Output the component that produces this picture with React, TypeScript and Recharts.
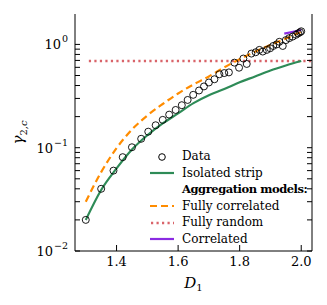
import React from "react";
import { ComposedChart, Line, Scatter, XAxis, YAxis, Legend } from "recharts";

const FONT = "DejaVu Serif";
const GREEN = "#2e8b57";
const ORANGE = "#ff8c00";
const RED = "#d9646a";
const PURPLE = "#8a2be2";

// measured points
const dataD1 = [1.3, 1.35, 1.39, 1.42, 1.45, 1.48, 1.503, 1.527, 1.55, 1.571, 1.592, 1.612, 1.631, 1.649, 1.668, 1.684, 1.7, 1.718, 1.734, 1.75, 1.765, 1.783, 1.798, 1.812, 1.823, 1.838, 1.852, 1.864, 1.875, 1.888, 1.899, 1.909, 1.92, 1.929, 1.94, 1.95, 1.961, 1.972, 1.983, 1.99, 1.996, 2.0];
const dataGamma = [0.02, 0.04, 0.06, 0.081, 0.101, 0.122, 0.143, 0.165, 0.186, 0.209, 0.232, 0.258, 0.29, 0.325, 0.358, 0.392, 0.428, 0.46, 0.514, 0.528, 0.536, 0.666, 0.595, 0.73, 0.647, 0.815, 0.84, 0.885, 0.853, 0.885, 0.918, 0.966, 1.0, 1.06, 0.966, 1.1, 1.15, 1.19, 1.24, 1.28, 1.31, 1.34];

// model curves
const modelD1 = [1.3, 1.35, 1.4, 1.45, 1.5, 1.55, 1.6, 1.65, 1.7, 1.75, 1.8, 1.85, 1.9, 1.95, 2.0];
const isolated = [0.02, 0.039, 0.063, 0.096, 0.132, 0.172, 0.215, 0.27, 0.322, 0.37, 0.43, 0.49, 0.56, 0.625, 0.69];
const fullyCorrelated = [0.03, 0.058, 0.099, 0.15, 0.205, 0.265, 0.335, 0.41, 0.49, 0.6, 0.72, 0.85, 0.99, 1.14, 1.33];
const randomD1 = [1.31, 2.035];
const fullyRandom = [0.69, 0.69];
const correlatedD1 = [1.945, 1.97, 2.0];
const correlated = [1.27, 1.32, 1.38];

const xTicks = [1.4, 1.6, 1.8, 2.0];
const yTicks = [0.01, 0.02, 0.03, 0.04, 0.05, 0.06, 0.07, 0.08, 0.09, 0.1, 0.2, 0.3, 0.4, 0.5, 0.6, 0.7, 0.8, 0.9, 1];

const zip = (xs: number[], ys: number[]) => xs.map((x, i) => ({ x, y: ys[i] }));
const points = zip(dataD1, dataGamma);
const isoData = zip(modelD1, isolated);
const fcData = zip(modelD1, fullyCorrelated);
const frData = zip(randomD1, fullyRandom);
const corData = zip(correlatedD1, correlated);

const legendItems = [
  { label: "Data", kind: "circle", color: "#000" },
  { label: "Isolated strip", kind: "solid", color: GREEN },
  { label: "Aggregation models:", kind: "header", color: "" },
  { label: "Fully correlated", kind: "dash", color: ORANGE },
  { label: "Fully random", kind: "dot", color: RED },
  { label: "Correlated", kind: "solid", color: PURPLE },
];

const isMajor = (v: number) => Math.abs(Math.log10(v) - Math.round(Math.log10(v))) < 1e-6;

// tick label only; tick lines come from the axis (negative tickSize = inward)
function LeftTick(props: any) {
  const { x, y, payload } = props;
  const v = payload.value;
  if (!isMajor(v)) return <g />;
  const exp = Math.round(Math.log10(v));
  return (
    <text x={x - 3} y={y + 5} textAnchor="end" fontFamily={FONT} fontSize={13} fill="#000">
      <tspan>10</tspan>
      <tspan dx={1} dy={-7} fontSize={9.5}>
        {exp < 0 ? "\u2212" + Math.abs(exp) : String(exp)}
      </tspan>
    </text>
  );
}

function BottomTick(props: any) {
  const { x, y, payload } = props;
  return (
    <text x={x} y={y + 13} textAnchor="middle" fontFamily={FONT} fontSize={13} fill="#000">
      {payload.value.toFixed(1)}
    </text>
  );
}

function YLabel(props: any) {
  const { viewBox } = props;
  const cx = viewBox.x + 23;
  const cy = viewBox.y + viewBox.height / 2;
  return (
    <text transform={`translate(${cx},${cy}) rotate(-90)`} textAnchor="middle" fontFamily={FONT} fill="#000">
      <tspan fontSize={15} fontStyle="italic">γ</tspan>
      <tspan fontSize={10} dy={4}>2,</tspan>
      <tspan fontSize={10} fontStyle="italic">c</tspan>
    </text>
  );
}

function XLabel(props: any) {
  const { viewBox } = props;
  return (
    <text x={viewBox.x + viewBox.width / 2} y={viewBox.y + 37} textAnchor="middle" fontFamily={FONT} fill="#000">
      <tspan fontSize={15} fontStyle="italic">D</tspan>
      <tspan fontSize={10} dy={3}>1</tspan>
    </text>
  );
}

function PanelLabel(props: any) {
  const { viewBox } = props;
  return (
    <text x={viewBox.x + 7} y={viewBox.y + 18} fontFamily={FONT} fontSize={15} fill="#000">
      b)
    </text>
  );
}

function Marker({ kind, color }: { kind: string; color: string }) {
  if (kind === "header") return <span style={{ display: "inline-block", width: 34 }} />;
  return (
    <svg width={34} height={10} style={{ verticalAlign: "middle" }}>
      {kind === "circle" && <circle cx={14} cy={5} r={3.3} fill="none" stroke={color} strokeWidth={1} />}
      {kind === "solid" && <line x1={2} x2={26} y1={5} y2={5} stroke={color} strokeWidth={2.2} />}
      {kind === "dash" && <line x1={2} x2={26} y1={5} y2={5} stroke={color} strokeWidth={2.2} strokeDasharray="7 4" />}
      {kind === "dot" && <line x1={3} x2={26} y1={5} y2={5} stroke={color} strokeWidth={2.4} strokeDasharray="2.2 3.3" />}
    </svg>
  );
}

function LegendBox() {
  return (
    <div style={{ fontFamily: FONT, fontSize: 12, color: "#000" }}>
      {legendItems.map((it) => (
        <div key={it.label} style={{ height: 16.5, lineHeight: "16.5px", whiteSpace: "nowrap" }}>
          <Marker kind={it.kind} color={it.color} />
          <span
            style={{
              fontWeight: it.kind === "header" ? "bold" : "normal",
              fontSize: it.kind === "header" ? 11.5 : 12,
              letterSpacing: it.kind === "header" ? -0.45 : 0,
            }}
          >
            {it.label}
          </span>
        </div>
      ))}
    </div>
  );
}

const axisLine = { stroke: "#000", strokeWidth: 1 };
const tickLine = { stroke: "#000", strokeWidth: 1 };

export default function App() {
  return (
    <div style={{ marginLeft: -8, marginTop: -8, width: 327, height: 305, position: "relative", fontFamily: FONT }}>
      <ComposedChart width={327} height={305} margin={{ top: 14, right: 0, bottom: 24, left: 0 }}>
        <XAxis
          xAxisId="b"
          dataKey="x"
          type="number"
          domain={[1.265, 2.035]}
          ticks={xTicks}
          interval={0}
          allowDataOverflow
          height={30}
          tickSize={-6}
          tickMargin={8}
          tickLine={tickLine}
          tick={<BottomTick />}
          axisLine={axisLine}
          label={<XLabel />}
        />
        <XAxis
          xAxisId="t"
          orientation="top"
          dataKey="x"
          type="number"
          domain={[1.265, 2.035]}
          ticks={xTicks}
          interval={0}
          allowDataOverflow
          height={0}
          tickSize={-6}
          tickLine={tickLine}
          tickFormatter={() => ""}
          axisLine={axisLine}
          label={<PanelLabel />}
        />
        <YAxis
          yAxisId="l"
          dataKey="y"
          scale="log"
          type="number"
          domain={[0.01, 1.97]}
          ticks={yTicks}
          interval={0}
          allowDataOverflow
          width={75}
          tickSize={-5}
          tickMargin={9}
          tickLine={tickLine}
          tick={<LeftTick />}
          axisLine={axisLine}
          label={<YLabel />}
        />
        <YAxis
          yAxisId="r"
          orientation="right"
          dataKey="y"
          scale="log"
          type="number"
          domain={[0.01, 1.97]}
          ticks={yTicks}
          interval={0}
          allowDataOverflow
          width={15}
          tickSize={-5}
          tickLine={tickLine}
          tickFormatter={() => ""}
          axisLine={axisLine}
        />
        <Legend
          layout="horizontal"
          verticalAlign="middle"
          align="center"
          content={() => <LegendBox />}
          wrapperStyle={{ left: 148, top: 148, width: 175 }}
        />
        <Line xAxisId="b" yAxisId="l" data={frData} dataKey="y" type="linear" stroke={RED} strokeWidth={2.4} strokeDasharray="2.2 3.3" dot={false} isAnimationActive={false} />
        <Line xAxisId="b" yAxisId="l" data={isoData} dataKey="y" type="monotone" stroke={GREEN} strokeWidth={2.2} dot={false} isAnimationActive={false} />
        <Line xAxisId="b" yAxisId="l" data={fcData} dataKey="y" type="monotone" stroke={ORANGE} strokeWidth={2.2} strokeDasharray="7 4" dot={false} isAnimationActive={false} />
        <Line xAxisId="b" yAxisId="l" data={corData} dataKey="y" type="monotone" stroke={PURPLE} strokeWidth={2.2} dot={false} isAnimationActive={false} />
        <Scatter
          xAxisId="b"
          yAxisId="l"
          data={points}
          dataKey="y"
          isAnimationActive={false}
          shape={(p: any) => <circle cx={p.cx} cy={p.cy} r={3.5} fill="none" stroke="#000" strokeWidth={0.9} />}
        />
      </ComposedChart>
    </div>
  );
}
